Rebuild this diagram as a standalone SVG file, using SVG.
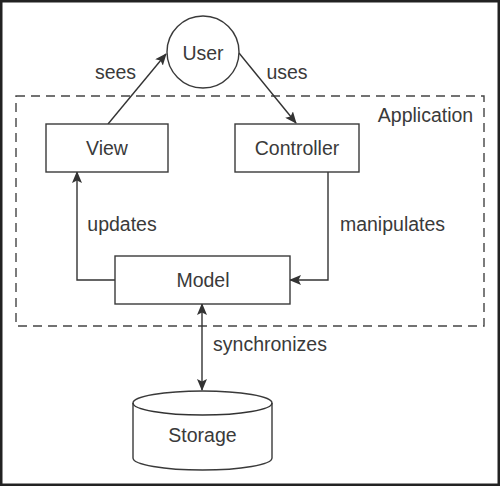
<svg xmlns="http://www.w3.org/2000/svg" width="500" height="486" viewBox="0 0 500 486">
<style>
.t{font-family:"Liberation Sans",Arial,sans-serif;font-size:19.5px;fill:#3a3a3a;text-anchor:middle}
.b{fill:#fff;stroke:#3a3a3a;stroke-width:1.4}
.c{fill:none;stroke:#333;stroke-width:1.4}
</style>
<defs>
<marker id="ah" viewBox="0 0 12 10" refX="11" refY="5" markerWidth="12" markerHeight="10" markerUnits="userSpaceOnUse" orient="auto-start-reverse">
<path d="M0,0 L12,5 L0,10 L2.5,5 Z" fill="#333"/>
</marker>
</defs>
<rect x="1.25" y="1.25" width="497.5" height="483.5" fill="#fff" stroke="#222" stroke-width="2.5"/>
<g id="application">
<rect x="16" y="96" width="468" height="230" fill="none" stroke="#444" stroke-width="1.4" stroke-dasharray="9,6"/>
<text class="t" x="425.5" y="122">Application</text>
</g>
<g id="connectors">
<line class="c" x1="108" y1="124" x2="166" y2="54" marker-end="url(#ah)"/>
<line class="c" x1="239" y1="53" x2="296" y2="123" marker-end="url(#ah)"/>
<polyline class="c" points="115,280 77,280 77,172" marker-end="url(#ah)"/>
<polyline class="c" points="328,172 328,280 290,280" marker-end="url(#ah)"/>
<line class="c" x1="202" y1="304" x2="202" y2="390" marker-start="url(#ah)" marker-end="url(#ah)"/>
<text class="t" x="115.5" y="79">sees</text>
<text class="t" x="287" y="79">uses</text>
<text class="t" x="122" y="231">updates</text>
<text class="t" x="392.5" y="231">manipulates</text>
<text class="t" x="270" y="351">synchronizes</text>
</g>
<g id="user">
<circle class="b" cx="203" cy="52" r="36"/>
<text class="t" x="203" y="60">User</text>
</g>
<g id="view">
<rect class="b" x="46" y="124" width="122" height="48"/>
<text class="t" x="107" y="155">View</text>
</g>
<g id="controller">
<rect class="b" x="235" y="124" width="124" height="48"/>
<text class="t" x="297" y="155">Controller</text>
</g>
<g id="model">
<rect class="b" x="115" y="256" width="175" height="48"/>
<text class="t" x="203" y="287">Model</text>
</g>
<g id="storage">
<path class="b" d="M133,403 L133,458 A69.5,12 0 0 0 272,458 L272,403 A69.5,12 0 0 0 133,403 Z"/>
<path class="c" d="M133,403 A69.5,12 0 0 0 272,403"/>
<text class="t" x="202.5" y="442">Storage</text>
</g>
</svg>
